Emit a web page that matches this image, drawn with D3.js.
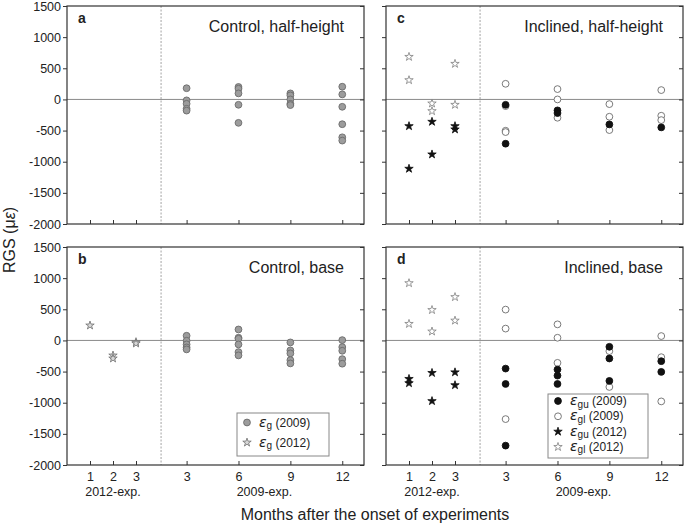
<!DOCTYPE html>
<html>
<head>
<meta charset="utf-8">
<script src="https://cdn.jsdelivr.net/npm/d3@7"></script>
<style>
  body { margin: 0; background: #fff; }
  text { font-family: "Liberation Sans", Arial, sans-serif; fill: #222; }
</style>
</head>
<body>
<div id="chart"></div>
<script>
// ---- data (microstrain) ----
var months2012 = [1, 2, 3];
var months2009 = [3, 6, 9, 12];
var xTickLabels = ["1", "2", "3", "3", "6", "9", "12"];
var yTicks = [-2000, -1500, -1000, -500, 0, 500, 1000, 1500];

// control, half-height (eps_g 2009), one list per month in months2009
var ctrlHalfG2009 = [[180, -15, -70, -150, -180], [200, 172, 97, -86, -376], [97, 65, 0, -70, -91], [204, 81, -118, -398, -608, -661]];
// control, base
var ctrlBaseG2009 = [[75, -5, -64, -112, -144], [176, 43, 27, -64, -187, -240], [-32, -160, -208, -316, -369], [5, -107, -166, -300, -374]];
var ctrlBaseG2012 = [[241], [-241, -289], [-27, -48]];
// inclined, half-height
var inclHalfGu2009 = [[-86, -711], [-176, -219], [-401], [-449]];
var inclHalfGl2009 = [[251, -107, -503, -524], [166, 0, -294], [-75, -278, -492], [150, -262, -332]];
var inclHalfGu2012 = [[-428, -1112], [-358, -882], [-428, -481]];
var inclHalfGl2012 = [[684, 310], [-64, -187], [572, -86]];
// inclined, base
var inclBaseGu2009 = [[-452, -699, -1689], [-468, -565, -699], [-102, -290, -650], [-333, -505]];
var inclBaseGl2009 = [[495, 190, -1263], [258, 43, -360], [-172, -747], [70, -269, -979]];
var inclBaseGu2012 = [[-617, -686], [-521, -973], [-511, -718]];
var inclBaseGl2012 = [[920, 266], [489, 144], [697, 319]];

//set svg dimensions
var svgWidth = 685;
var svgHeight = 524;

var panelW = 297;
var panelH = 218;
var colX = [67, 386];
var rowY = [6, 247];

// virtual x position: 2012 months sit left of the divider, 2009 months to the right
function xPos(exp, m) {
  return exp === 2012 ? m : 5.2 + (m - 3) * 0.752;
}
var divider = 4.09;
var tickPositions = months2012.map(function(m) { return xPos(2012, m); })
  .concat(months2009.map(function(m) { return xPos(2009, m); }));

var xScale = d3.scaleLinear().domain([0, panelW / 23]).range([0, panelW]);
var yScale = d3.scaleLinear().domain([-2000, 1500]).range([panelH, 0]);

var panels = [
  { letter: "a", title: "Control, half-height", col: 0, row: 0,
    series: [{ data: ctrlHalfG2009, exp: 2009, mark: "grayCircle" }] },
  { letter: "b", title: "Control, base", col: 0, row: 1,
    series: [{ data: ctrlBaseG2009, exp: 2009, mark: "grayCircle" },
             { data: ctrlBaseG2012, exp: 2012, mark: "grayStar" }] },
  { letter: "c", title: "Inclined, half-height", col: 1, row: 0,
    series: [{ data: inclHalfGl2009, exp: 2009, mark: "openCircle" },
             { data: inclHalfGu2009, exp: 2009, mark: "blackCircle" },
             { data: inclHalfGl2012, exp: 2012, mark: "openStar" },
             { data: inclHalfGu2012, exp: 2012, mark: "blackStar" }] },
  { letter: "d", title: "Inclined, base", col: 1, row: 1,
    series: [{ data: inclBaseGl2009, exp: 2009, mark: "openCircle" },
             { data: inclBaseGu2009, exp: 2009, mark: "blackCircle" },
             { data: inclBaseGl2012, exp: 2012, mark: "openStar" },
             { data: inclBaseGu2012, exp: 2012, mark: "blackStar" }] }
];

var markStyle = {
  grayCircle: { shape: "circle", fill: "#9c9c9c", stroke: "#6b6b6b" },
  openCircle: { shape: "circle", fill: "#fff", stroke: "#6b6b6b" },
  blackCircle: { shape: "circle", fill: "#111", stroke: "#111" },
  grayStar: { shape: "star", fill: "#d6d6d6", stroke: "#707070" },
  openStar: { shape: "star", fill: "#fff", stroke: "#808080" },
  blackStar: { shape: "star", fill: "#111", stroke: "#111" }
};
var starPath = d3.symbol().type(d3.symbolStar).size(22)();

function drawMark(g, mark, x, y) {
  var s = markStyle[mark];
  if (s.shape === "circle") {
    g.append("circle").attr("cx", x).attr("cy", y).attr("r", 3.4)
      .attr("fill", s.fill).attr("stroke", s.stroke).attr("stroke-width", 0.9);
  } else {
    g.append("path").attr("d", starPath)
      .attr("transform", "translate(" + x + "," + y + ")")
      .attr("fill", s.fill).attr("stroke", s.stroke).attr("stroke-width", 0.8);
  }
}

var svg = d3.select("#chart").append("svg")
  .attr("width", svgWidth)
  .attr("height", svgHeight);

panels.forEach(function(p) {
  var g = svg.append("g")
    .attr("transform", "translate(" + colX[p.col] + "," + rowY[p.row] + ")");

  // zero line and experiment divider
  g.append("line")
    .attr("x1", 0).attr("x2", panelW)
    .attr("y1", yScale(0)).attr("y2", yScale(0))
    .attr("stroke", "#8a8a8a").attr("stroke-width", 1);
  g.append("line")
    .attr("x1", xScale(divider)).attr("x2", xScale(divider))
    .attr("y1", 0).attr("y2", panelH)
    .attr("stroke", "#8a8a8a").attr("stroke-width", 0.8)
    .attr("stroke-dasharray", "2,1.5");

  // left axis (labels only in left column), plain hyphen minus like the original
  var yAxis = d3.axisLeft(yScale).tickValues(yTicks).tickSize(4).tickPadding(2)
    .tickFormat(function(d) { return p.col === 0 ? String(d) : ""; });
  g.append("g").attr("class", "y-axis").call(yAxis);

  // right axis, inward ticks
  g.append("g")
    .attr("transform", "translate(" + panelW + ",0)")
    .call(d3.axisRight(yScale).tickValues(yTicks).tickSize(-4).tickFormat(""));

  // bottom axis, inward ticks
  var xAxis = d3.axisBottom(xScale).tickValues(tickPositions).tickSize(-4).tickPadding(7.5)
    .tickFormat(function(d, i) { return p.row === 1 ? xTickLabels[i] : ""; });
  g.append("g").attr("transform", "translate(0," + panelH + ")").call(xAxis);

  g.selectAll(".domain").remove();
  g.selectAll(".tick line").attr("stroke", "#333");
  g.selectAll(".tick text").attr("font-size", "12.5px").attr("fill", "#222")
    .style("font-family", "'Liberation Sans', Arial, sans-serif");

  // frame
  g.append("rect")
    .attr("width", panelW).attr("height", panelH)
    .attr("fill", "none").attr("stroke", "#333").attr("stroke-width", 1.2);

  // data points
  p.series.forEach(function(s) {
    var months = s.exp === 2012 ? months2012 : months2009;
    s.data.forEach(function(vals, i) {
      vals.forEach(function(v) {
        drawMark(g, s.mark, xScale(xPos(s.exp, months[i])), yScale(v));
      });
    });
  });

  // panel letter and title
  g.append("text").attr("x", 11).attr("y", 17)
    .attr("font-size", "14px").attr("font-weight", "bold").text(p.letter);
  g.append("text").attr("x", panelW - 20).attr("y", 26)
    .attr("text-anchor", "end").attr("font-size", "16px").text(p.title);

  // experiment labels under bottom panels
  if (p.row === 1) {
    g.append("text").attr("x", xScale(xPos(2012, 2))).attr("y", panelH + 31)
      .attr("text-anchor", "middle").attr("font-size", "12.5px").text("2012-exp.");
    g.append("text").attr("x", xScale(xPos(2009, 7.5))).attr("y", panelH + 31)
      .attr("text-anchor", "middle").attr("font-size", "12.5px").text("2009-exp.");
  }
});

// legends
function legendLabel(t, sub, year) {
  t.append("tspan").attr("font-size", "14px").attr("font-style", "italic")
    .style("font-family", "'DejaVu Sans', sans-serif").text("\u03b5");
  t.append("tspan").attr("font-size", "10px").attr("dy", 2.5).text(sub);
  t.append("tspan").attr("font-size", "12px").attr("dy", -2.5).text(" (" + year + ")");
}

var legendB = [
  { mark: "grayCircle", sub: "g", year: 2009 },
  { mark: "grayStar", sub: "g", year: 2012 }
];
var legendD = [
  { mark: "blackCircle", sub: "gu", year: 2009 },
  { mark: "openCircle", sub: "gl", year: 2009 },
  { mark: "blackStar", sub: "gu", year: 2012 },
  { mark: "openStar", sub: "gl", year: 2012 }
];

function drawLegend(items, x, y, w, h, rowH, firstRow) {
  var lg = svg.append("g").attr("transform", "translate(" + x + "," + y + ")");
  lg.append("rect").attr("width", w).attr("height", h)
    .attr("fill", "#fff").attr("stroke", "#888").attr("stroke-width", 1);
  items.forEach(function(it, i) {
    var cy = firstRow + i * rowH;
    drawMark(lg, it.mark, 10, cy);
    var t = lg.append("text").attr("x", 22).attr("y", cy + 4);
    legendLabel(t, it.sub, it.year);
  });
}
drawLegend(legendB, 237, 413, 92, 43, 20, 9.5);
drawLegend(legendD, 548, 394, 100, 64, 15.3, 7);

// axis titles
var yTitle = svg.append("text")
  .attr("transform", "translate(15,240) rotate(-90)")
  .attr("text-anchor", "middle").attr("font-size", "16px");
yTitle.append("tspan").text("RGS (\u03bc");
yTitle.append("tspan").attr("font-style", "italic").text("\u03b5");
yTitle.append("tspan").text(")");

svg.append("text")
  .attr("x", 375).attr("y", 520)
  .attr("text-anchor", "middle").attr("font-size", "16px")
  .text("Months after the onset of experiments");
</script>
</body>
</html>
